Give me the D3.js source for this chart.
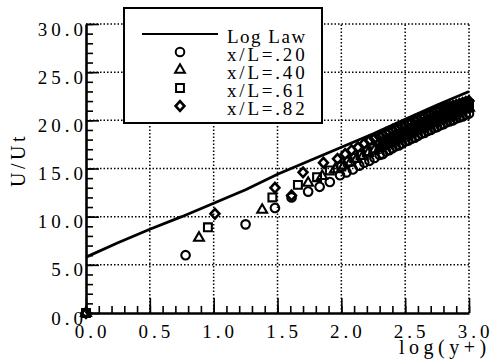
<!DOCTYPE html>
<html>
<head>
<meta charset="utf-8">
<script src="https://cdn.jsdelivr.net/npm/d3@7/dist/d3.min.js"></script>
<style>
  body { margin: 0; background: #fff; }
  text { font-family: "Liberation Serif", "Times New Roman", Times, serif; fill: #000; }
</style>
</head>
<body>
<div id="chart"></div>
<script>
// ---- data ----
var xTicks = [0.0, 0.5, 1.0, 1.5, 2.0, 2.5, 3.0];
var yTicks = [0, 5, 10, 15, 20, 25, 30];
var seriesNames = ['x/L=.20', 'x/L=.40', 'x/L=.61', 'x/L=.82'];

// log law curve (as digitised, slightly wavy)
var logLaw = [[0, 5.8], [0.25, 7.3], [0.5, 8.7], [0.75, 10.0], [1.0, 11.4], [1.25, 12.8],
              [1.5, 14.4], [1.75, 15.8], [2.0, 17.2], [2.25, 18.6], [2.5, 20.1], [2.75, 21.6], [3.0, 23.0]];

var s20 = [[0, 0], [0.78, 6.0], [1.25, 9.2], [1.48, 10.9], [1.61, 12.0], [1.74, 12.6], [1.83, 13.1],
           [1.91, 13.6], [1.99, 14.3], [2.04, 14.6], [2.09, 14.9], [2.14, 15.3], [2.18, 15.6], [2.22, 15.8],
           [2.26, 16.1], [2.30, 16.4], [2.325, 16.5], [2.35, 16.8], [2.375, 16.9], [2.40, 17.1], [2.425, 17.3],
           [2.45, 17.4], [2.475, 17.6], [2.50, 17.8], [2.525, 17.9], [2.55, 18.1], [2.575, 18.2], [2.60, 18.4],
           [2.625, 18.6], [2.65, 18.7], [2.675, 18.9], [2.70, 19.0], [2.725, 19.2], [2.75, 19.3], [2.775, 19.5],
           [2.80, 19.6], [2.825, 19.8], [2.85, 19.9], [2.875, 20.0], [2.90, 20.2], [2.925, 20.3], [2.95, 20.4],
           [2.975, 20.6], [3.0, 20.7]];
var s40 = [[0, 0], [0.885, 7.8], [1.38, 10.7], [1.74, 13.5], [1.85, 14.2], [1.95, 14.9], [2.02, 15.3],
           [2.07, 15.6], [2.12, 16.0], [2.17, 16.3], [2.21, 16.6], [2.26, 16.9], [2.30, 17.1], [2.325, 17.3],
           [2.35, 17.5], [2.375, 17.6], [2.40, 17.8], [2.425, 18.0], [2.45, 18.1], [2.475, 18.3], [2.50, 18.4],
           [2.525, 18.6], [2.55, 18.7], [2.575, 18.9], [2.60, 19.1], [2.625, 19.2], [2.65, 19.4], [2.675, 19.5],
           [2.70, 19.7], [2.725, 19.8], [2.75, 20.0], [2.775, 20.1], [2.80, 20.3], [2.825, 20.4], [2.85, 20.5],
           [2.875, 20.7], [2.90, 20.8], [2.925, 21.0], [2.95, 21.1], [2.975, 21.2], [3.0, 21.3]];
var s61 = [[0, 0], [0.955, 8.9], [1.46, 12.0], [1.66, 13.3], [1.81, 14.1], [1.91, 14.8], [2.00, 15.2],
           [2.05, 15.7], [2.10, 16.1], [2.15, 16.4], [2.20, 16.8], [2.25, 17.1], [2.30, 17.4], [2.325, 17.6],
           [2.35, 17.8], [2.375, 18.0], [2.40, 18.1], [2.425, 18.3], [2.45, 18.5], [2.475, 18.6], [2.50, 18.8],
           [2.525, 19.0], [2.55, 19.1], [2.575, 19.3], [2.60, 19.5], [2.625, 19.6], [2.65, 19.8], [2.675, 19.9],
           [2.70, 20.1], [2.725, 20.2], [2.75, 20.4], [2.775, 20.5], [2.80, 20.7], [2.825, 20.8], [2.85, 21.0],
           [2.875, 21.1], [2.90, 21.2], [2.925, 21.4], [2.95, 21.5], [2.975, 21.6], [3.0, 21.7]];
var s82 = [[0, 0], [1.01, 10.3], [1.48, 13.0], [1.61, 12.2], [1.70, 14.6], [1.86, 15.6], [1.97, 16.0],
           [2.03, 16.5], [2.08, 16.9], [2.13, 17.2], [2.18, 17.6], [2.22, 17.9], [2.26, 18.1], [2.30, 18.3],
           [2.325, 18.5], [2.35, 18.7], [2.375, 18.8], [2.40, 19.0], [2.425, 19.1], [2.45, 19.2], [2.475, 19.4],
           [2.50, 19.5], [2.525, 19.7], [2.55, 19.8], [2.575, 20.0], [2.60, 20.1], [2.625, 20.3], [2.65, 20.4],
           [2.675, 20.6], [2.70, 20.7], [2.725, 20.8], [2.75, 21.0], [2.775, 21.1], [2.80, 21.2], [2.825, 21.3],
           [2.85, 21.4], [2.875, 21.5], [2.90, 21.6], [2.925, 21.7], [2.95, 21.8], [2.975, 21.9], [3.0, 22.0]];

// ---- layout ----
var W = 492, H = 362;
var X0 = 86, X1 = 469, Y0 = 313, Y1 = 24;

var x = d3.scaleLinear().domain([0, 3]).range([X0, X1]);
var y = d3.scaleLinear().domain([0, 30]).range([Y0, Y1]);

// marker shapes: circle, triangle, square, squat diamond
var diamond = {
    draw: function(ctx, size) {
        var h = Math.sqrt(size) * 0.78, w = h * 0.92;
        ctx.moveTo(0, -h); ctx.lineTo(w, 0); ctx.lineTo(0, h); ctx.lineTo(-w, 0); ctx.closePath();
    }
};
var markers = [
    { type: d3.symbolCircle,   size: 58 },
    { type: d3.symbolTriangle, size: 42 },
    { type: d3.symbolSquare,   size: 62 },
    { type: diamond,           size: 38 }
];

var svg = d3.select('#chart').append('svg')
            .attr('width', W)
            .attr('height', H);

// dotted grid at the major ticks
var grid = svg.append('g').attr('stroke', '#000').attr('stroke-width', 1.5)
              .attr('stroke-dasharray', '1.5,2');
grid.selectAll('line.v')
    .data(xTicks.slice(1))
    .enter().append('line')
    .attr('class', 'v')
    .attr('x1', function(d) { return x(d); })
    .attr('x2', function(d) { return x(d); })
    .attr('y1', Y0)
    .attr('y2', Y1);
grid.selectAll('line.h')
    .data(yTicks.slice(1))
    .enter().append('line')
    .attr('class', 'h')
    .attr('x1', X0)
    .attr('x2', X1)
    .attr('y1', function(d) { return y(d); })
    .attr('y2', function(d) { return y(d); });

// minor ticks (inward)
var xMinor = d3.range(0, 31).map(function(i) { return i / 10; });
var yMinor = d3.range(0, 31);

svg.append('g')
    .attr('transform', 'translate(0,' + Y0 + ')')
    .call(d3.axisBottom(x).tickValues(xMinor).tickSize(-7).tickSizeOuter(0).tickFormat(''))
    .call(function(g) { g.select('.domain').remove(); });
svg.append('g')
    .attr('transform', 'translate(' + X0 + ',0)')
    .call(d3.axisLeft(y).tickValues(yMinor).tickSize(-7).tickSizeOuter(0).tickFormat(''))
    .call(function(g) { g.select('.domain').remove(); });

// major ticks and labels
var xAxis = svg.append('g')
    .attr('transform', 'translate(0,' + Y0 + ')')
    .call(d3.axisBottom(x).tickValues(xTicks).tickSize(-15).tickSizeOuter(0).tickFormat(d3.format('.1f')));
var yAxis = svg.append('g')
    .attr('transform', 'translate(' + X0 + ',0)')
    .call(d3.axisLeft(y).tickValues(yTicks).tickSize(-13).tickSizeOuter(0).tickFormat(d3.format('.1f')));

svg.selectAll('.tick line').attr('stroke', '#000').attr('stroke-width', 1.6);
svg.selectAll('.domain').attr('stroke', '#000').attr('stroke-width', 2.6);

xAxis.selectAll('text')
    .attr('y', 25).attr('dy', null).attr('dx', 6)
    .style('font-size', '19px').style('letter-spacing', '4px');
yAxis.selectAll('text')
    .attr('x', 1).attr('y', 11).attr('dy', null)
    .style('font-size', '19px').style('letter-spacing', '4px');

// log law line
svg.append('path')
    .datum(logLaw)
    .attr('d', d3.line().x(function(d) { return x(d[0]); }).y(function(d) { return y(d[1]); }))
    .attr('fill', 'none')
    .attr('stroke', '#000')
    .attr('stroke-width', 2.8);

// data points, outlines only so the dense part piles up dark
[s20, s40, s61, s82].forEach(function(series, k) {
    var sym = d3.symbol().type(markers[k].type).size(markers[k].size);
    svg.append('g').selectAll('path')
        .data(series)
        .enter().append('path')
        .attr('transform', function(d) { return 'translate(' + x(d[0]) + ',' + y(d[1]) + ')'; })
        .attr('d', sym)
        .attr('fill', 'none')
        .attr('stroke', '#000')
        .attr('stroke-width', k === 3 ? 2.6 : 2.1);
});

// legend
var legend = svg.append('g');
legend.append('rect')
    .attr('x', 124).attr('y', 8).attr('width', 198).attr('height', 115)
    .attr('fill', '#fff').attr('stroke', '#000').attr('stroke-width', 2);
legend.append('line')
    .attr('x1', 142).attr('x2', 218).attr('y1', 34).attr('y2', 34)
    .attr('stroke', '#000').attr('stroke-width', 2.2);
legend.append('text')
    .attr('x', 227).attr('y', 43)
    .style('font-size', '19px').style('letter-spacing', '1.5px')
    .text('Log Law');
seriesNames.forEach(function(name, k) {
    var cy = 52 + k * 18;
    legend.append('path')
        .attr('transform', 'translate(180,' + cy + ')')
        .attr('d', d3.symbol().type(markers[k].type).size(markers[k].size)())
        .attr('fill', '#fff')
        .attr('stroke', '#000')
        .attr('stroke-width', k === 3 ? 2.6 : 2.0);
    legend.append('text')
        .attr('x', 227).attr('y', cy + 9)
        .style('font-size', '19px').style('letter-spacing', '2.8px')
        .text(name);
});

// axis titles
svg.append('text')
    .attr('transform', 'translate(25,160) rotate(-90)')
    .attr('text-anchor', 'middle')
    .style('font-size', '20px').style('letter-spacing', '3.5px')
    .text('U/Ut');
svg.append('text')
    .attr('x', 399).attr('y', 354)
    .style('font-size', '20px').style('letter-spacing', '4.5px')
    .text('log(y+)');
</script>
</body>
</html>
